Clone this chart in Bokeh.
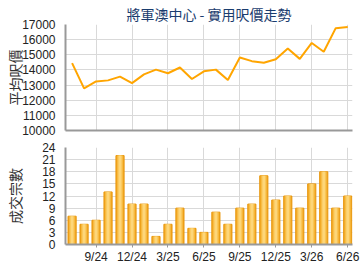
from bokeh.plotting import figure
from bokeh.layouts import column
from bokeh.models import Range1d, FixedTicker
from bokeh.embed import file_html
from bokeh.resources import INLINE

months = ["7/24", "8/24", "9/24", "10/24", "11/24", "12/24",
          "1/25", "2/25", "3/25", "4/25", "5/25", "6/25",
          "7/25", "8/25", "9/25", "10/25", "11/25", "12/25",
          "1/26", "2/26", "3/26", "4/26", "5/26", "6/26"]
prices = [14450, 12780, 13240, 13310, 13560, 13130,
          13710, 14020, 13780, 14160, 13400, 13910,
          14020, 13330, 14820, 14580, 14470, 14710,
          15420, 14730, 15780, 15200, 16760, 16840]
counts = [7, 5, 6, 13, 22, 10, 10, 2, 5, 9, 4, 3,
          8, 5, 9, 10, 17, 11, 12, 9, 15, 18, 9, 12]
tick_labels = ["9/24", "12/24", "3/25", "6/25", "9/25", "12/25", "3/26", "6/26"]

x = list(range(len(months)))
tick_idx = [months.index(t) for t in tick_labels]

CJK = "Noto Sans CJK TC"
LAT = "Liberation Sans"
GRID = "#d9d9d9"
AXIS = "#999999"

def style(p):
    p.outline_line_color = None
    p.background_fill_color = "white"
    p.border_fill_color = "white"
    p.xgrid.grid_line_color = GRID
    p.ygrid.grid_line_color = GRID
    for ax in (p.xaxis[0], p.yaxis[0]):
        ax.axis_line_color = AXIS
        ax.axis_line_width = 2
        ax.major_tick_line_color = AXIS
        ax.minor_tick_line_color = None
        ax.major_label_text_font = LAT
        ax.major_label_text_font_size = "12px"
        ax.major_label_text_color = "#222222"
    p.yaxis.major_tick_out = 0
    p.yaxis.major_tick_in = 0
    p.yaxis.major_label_standoff = 10
    p.yaxis.axis_label_text_font = CJK
    p.yaxis.axis_label_text_font_size = "14px"
    p.yaxis.axis_label_text_font_style = "normal"
    p.yaxis.axis_label_text_color = "#333333"
    p.xgrid.ticker = FixedTicker(ticks=tick_idx)

xr = Range1d(-0.55, 23.4)

top = figure(width=360, height=137, output_backend="svg", toolbar_location=None,
             x_range=xr, y_range=Range1d(10000, 17000),
             min_border_left=65, min_border_right=8, min_border_top=20, min_border_bottom=7,
             title="將軍澳中心 - 實用呎價走勢")
style(top)
top.title.text_font = CJK
top.title.text_font_size = "14px"
top.title.text_font_style = "normal"
top.title.text_color = "#1a3c6e"
top.title.align = "center"
top.title.standoff = 2
top.title.offset = 0
top.yaxis.ticker = FixedTicker(ticks=list(range(10000, 17001, 1000)))
top.yaxis.axis_label = "平均呎價"
top.yaxis.axis_label_standoff = -6
top.xaxis.ticker = FixedTicker(ticks=[])
top.xaxis.major_tick_out = 0
top.xaxis.major_tick_in = 0
top.line(x, prices, line_color="#ffa500", line_width=2)

bot = figure(width=360, height=133, output_backend="svg", toolbar_location=None,
             x_range=xr, y_range=Range1d(0, 24),
             min_border_left=65, min_border_right=8, min_border_top=10, min_border_bottom=26)
style(bot)
bot.yaxis.ticker = FixedTicker(ticks=list(range(0, 25, 3)))
bot.yaxis.axis_label = "成交宗數"
bot.yaxis.axis_label_standoff = 14
bot.xaxis.ticker = FixedTicker(ticks=tick_idx)
bot.xaxis.major_label_overrides = {i: t for i, t in zip(tick_idx, tick_labels)}
bot.xaxis.major_tick_out = 3
bot.xaxis.major_tick_in = 0
bot.xaxis.major_label_standoff = 2

layers = [(0.68, "#f0a41e", "#e8960c"), (0.52, "#f6b73c", None),
          (0.36, "#fac75a", None), (0.2, "#fdd67a", None)]
for w, c, lc in layers:
    bot.vbar(x=x, top=counts, bottom=0, width=w, fill_color=c,
             line_color=lc, line_width=1 if lc else 0)

out = column(top, bot, spacing=0)
open("out.html", "w").write(file_html(out, INLINE))
